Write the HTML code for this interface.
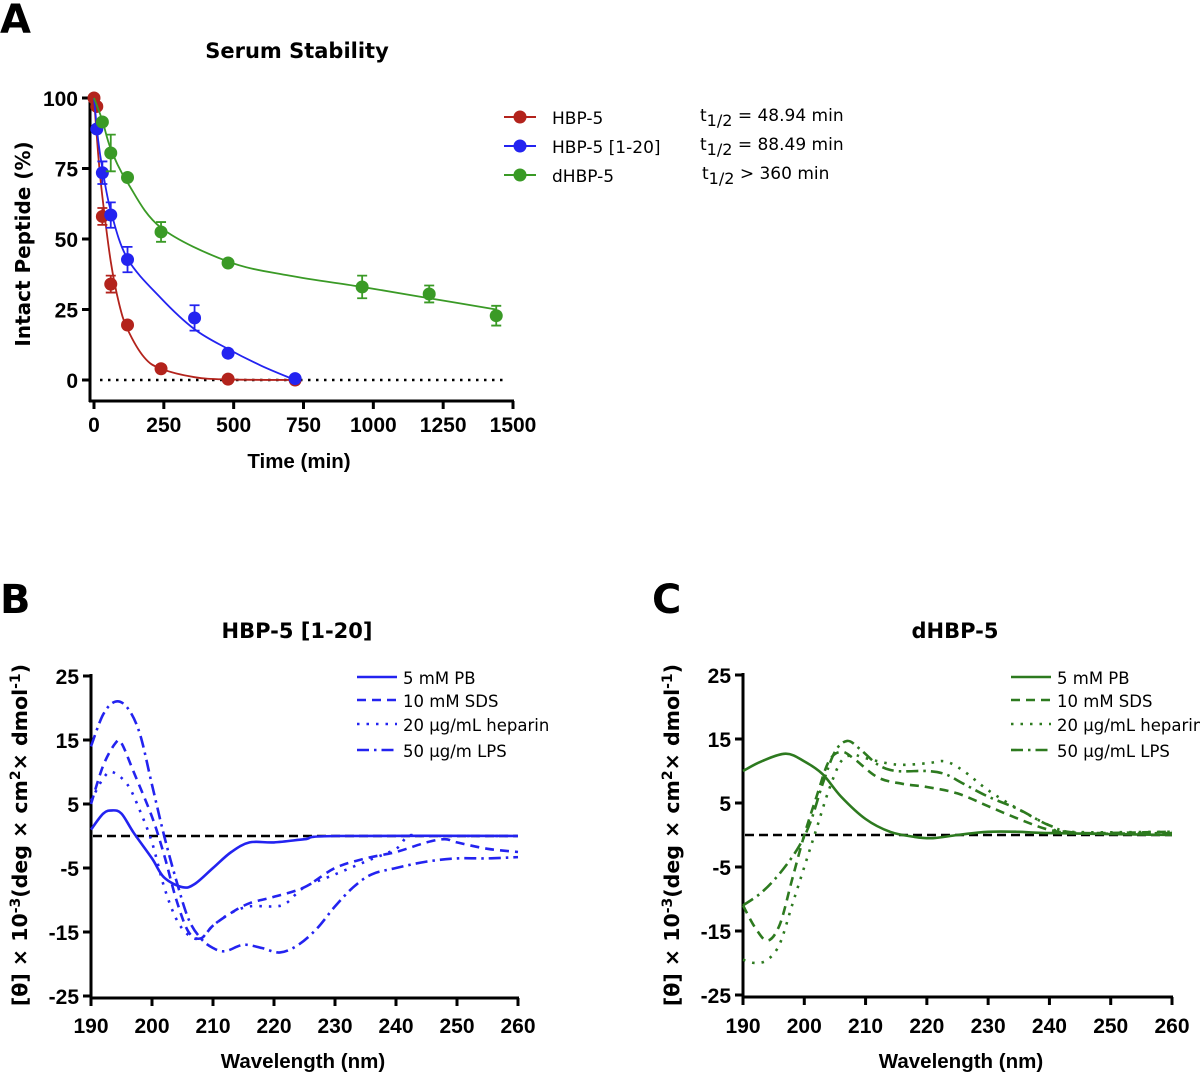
<!DOCTYPE html>
<html><head><meta charset="utf-8"><style>
body{margin:0;background:#fff;}
svg text{font-family:"Liberation Sans","DejaVu Sans",sans-serif;}
svg text.dv{font-family:"DejaVu Sans","Liberation Sans",sans-serif;}
.b{font-weight:bold;}
</style></head><body>
<svg id="fig" width="1200" height="1076" xmlns="http://www.w3.org/2000/svg"></svg>
<script>
// ---------- Panel A data ----------
const redT=[0,10,30,60,120,240,480,720];
const redV=[100,97,58,34,19.5,4,0.3,0];
const redE=[0,0,3,3,0,0,0,0];
const blueT=[10,30,60,120,360,480,720];
const blueV=[89,73.5,58.5,42.7,22,9.5,0.5];
const blueE=[0,4,4.5,4.5,4.5,0,0];
const greenT=[30,60,120,240,480,960,1200,1440];
const greenV=[91.5,80.5,71.8,52.5,41.5,33,30.5,22.8];
const greenE=[0,6.5,0,3.5,0,4,3,3.5];
const redFitT=[0,15,30,60,90,120,180,240,360,480,720];
const redFitV=[100,80,65,42,27,18,8,4,1,0.2,0];
const blueFitT=[0,15,30,60,120,240,360,480,600,720];
const blueFitV=[100,85,75,60,43,29,18,11,5,0];
const greenFitT=[0,30,60,120,240,480,700,960,1200,1440];
const greenFitV=[100,92,82,70,54,42,37,33,29,25];
const aXTicks=[0,250,500,750,1000,1250,1500];
const aYTicks=[0,25,50,75,100];
// ---------- Panel B data ----------
const cdXTicks=[190,200,210,220,230,240,250,260];
const cdYTicks=[25,15,5,-5,-15,-25];
const bPBw=[190,192,193.5,195,197,200,202,205,207,210,213,216,220,225,230,260];
const bPBv=[1,3.5,4,3.5,0.5,-3.5,-6.5,-8,-7.5,-5,-2.5,-1,-1,-0.5,0,0];
const bSDSw=[190,192,194,195,197,200,202,204,206,208,210,213,216,220,225,230,235,240,245,248,250,255,260];
const bSDSv=[5,11,14.5,14.5,10,3,-3,-10,-15,-16,-14,-12,-10.5,-9.5,-8,-5,-3.5,-2.5,-1,-0.5,-1,-2,-2.5];
const bHEPw=[190,192,193.5,196,198,200,202,204,206,208,210,213,216,220,222,225,230,235,240,242,245,260];
const bHEPv=[5.5,9,10,8,4,-1,-8,-13,-15.5,-16,-14,-12,-11,-11,-10.5,-8,-6,-4,-2,0,0,0];
const bLPSw=[190,192,194,196,198,200,202,204,206,208,210,212,215,218,221,224,227,230,233,236,240,245,250,255,260];
const bLPSv=[14,19,21,20,16,8,0,-7,-13,-16,-17.5,-18,-17,-17.5,-18.2,-17,-14.5,-11,-8,-6,-5,-4,-3.5,-3.5,-3.3];
// ---------- Panel C data ----------
const cPBw=[190,193,197,200,203,206,210,214,218,221,225,230,235,240,260];
const cPBv=[10,11.5,12.7,11.5,9.5,6,2.5,0.5,-0.3,-0.5,0,0.5,0.5,0.3,0];
const cSDSw=[190,192,194,196,198,200,202,204,206,208,212,216,220,225,230,235,240,245,260];
const cSDSv=[-11,-14.5,-16.5,-14,-7,0,6,11.5,13,12,9,8,7.5,6.5,4.5,2.5,0.8,0.3,0.5];
const cHEPw=[190,192,194,196,198,200,202,204,206,208,210,215,220,223,226,230,235,240,243,260];
const cHEPv=[-19.5,-20,-19.5,-17,-11,-5,1,7,11.5,12.5,12,11,11.2,11.5,10,7,4,1.5,0.5,0.5];
const cLPSw=[190,193,196,199,201,203,205,207,209,212,215,220,223,226,230,235,240,245,260];
const cLPSv=[-11,-9,-6,-2,2,8,13,14.7,13.5,11,10,10,9.5,8,6,4,1.5,0.3,0.3];

const NS="http://www.w3.org/2000/svg";
const svg=document.getElementById('fig');
function el(tag,attrs,parent){const e=document.createElementNS(NS,tag);for(const k in attrs)e.setAttribute(k,attrs[k]);(parent||svg).appendChild(e);return e;}
function txt(s,attrs,parent){const e=el('text',attrs,parent);e.textContent=s;return e;}
function linScale(d0,d1,r0,r1){return v=>r0+(v-d0)*(r1-r0)/(d1-d0);}
function smoothPath(pts){
  let d=`M${pts[0][0]},${pts[0][1]}`;
  for(let i=0;i<pts.length-1;i++){
    const p0=pts[Math.max(0,i-1)],p1=pts[i],p2=pts[i+1],p3=pts[Math.min(pts.length-1,i+2)];
    const c1=[p1[0]+(p2[0]-p0[0])/6,p1[1]+(p2[1]-p0[1])/6];
    const c2=[p2[0]-(p3[0]-p1[0])/6,p2[1]-(p3[1]-p1[1])/6];
    d+=` C${c1[0]},${c1[1]} ${c2[0]},${c2[1]} ${p2[0]},${p2[1]}`;
  }
  return d;
}
const la=txt('A',{x:0,y:33,'font-size':40,class:'b dv'});

const lb=txt('B',{x:0,y:613,'font-size':40,class:'b dv'});

const lc=txt('C',{x:652,y:613,'font-size':40,class:'b dv'});


// ---------- Panel A ----------
(function(){
  const g=el('g',{});
  
  const X=linScale(0,1500,94,513), Y=linScale(0,100,380,98);
  const t=txt('Serum Stability',{x:297,y:58,'font-size':21,class:'b dv','text-anchor':'middle'},g);
  
  const ya=el('line',{x1:90,y1:96,x2:90,y2:402,stroke:'#000','stroke-width':3},g);
  
  const xa=el('line',{x1:89,y1:401,x2:X(1500)+1,y2:401,stroke:'#000','stroke-width':3},g);
  
  aYTicks.forEach(v=>{
    el('line',{x1:82,x2:90,y1:Y(v),y2:Y(v),stroke:'#000','stroke-width':3},g);
    const l=txt(String(v),{x:78,y:Y(v)+8,'font-size':21,class:'b','text-anchor':'end'},g);
    
  });
  aXTicks.forEach(v=>{
    el('line',{x1:X(v),x2:X(v),y1:401,y2:409,stroke:'#000','stroke-width':3},g);
    const l=txt(String(v),{x:X(v),y:432,'font-size':21,class:'b','text-anchor':'middle'},g);
    
  });
  const xt=txt('Time (min)',{x:299,y:468,'font-size':20.5,class:'b','text-anchor':'middle'},g);
  
  const yt=txt('Intact Peptide (%)',{x:0,y:0,'font-size':20,class:'b dv','text-anchor':'middle',transform:'translate(30,244) rotate(-90)'},g);
  
  const zl=el('line',{x1:X(0)+6,x2:X(1500)-5,y1:Y(0),y2:Y(0),stroke:'#000','stroke-width':2.5,'stroke-dasharray':'2.5,5.5'},g);
  
  const series=[
    ['hbp5','#b3231c',redT,redV,redE,redFitT,redFitV],
    ['hbp5-1-20','#2323f0',blueT,blueV,blueE,blueFitT,blueFitV],
    ['dhbp5','#3a9a26',greenT,greenV,greenE,greenFitT,greenFitV]];
  series.forEach(s=>{
    const [nm,c,T,V,E,FT,FV]=s;
    const p=el('path',{d:smoothPath(FT.map((t,i)=>[X(t),Y(FV[i])])),fill:'none',stroke:c,'stroke-width':1.8},g);
    
    T.forEach((t,i)=>{
      if(E[i]>0){
        const eb=el('path',{d:`M${X(t)},${Y(V[i]-E[i])}V${Y(V[i]+E[i])}M${X(t)-5},${Y(V[i]-E[i])}h10M${X(t)-5},${Y(V[i]+E[i])}h10`,stroke:c,'stroke-width':1.8,fill:'none'},g);
        
      }
      const ci=el('circle',{cx:X(t),cy:Y(V[i]),r:6.5,fill:c},g);
      
    });
  });
  const leg=[['HBP-5','#b3231c','48.94 min','='],['HBP-5 [1-20]','#2323f0','88.49 min','='],['dHBP-5','#3a9a26','360 min','>']];
  leg.forEach((L,i)=>{
    const y=117+i*29;
    const lg=el('g',{},g);
    
    el('line',{x1:504,x2:536,y1:y,y2:y,stroke:L[1],'stroke-width':2},lg);
    el('circle',{cx:520,cy:y,r:6.5,fill:L[1]},lg);
    txt(L[0],{x:552,y:y+7,'font-size':17,class:'dv'},lg);
    const h=txt('',{x:700+(i==2?2:0),y:y+4,'font-size':17,class:'dv'},lg);
    
    const a=el('tspan',{},h);a.textContent='t';
    const b=el('tspan',{dy:5,'font-size':16},h);b.textContent='1/2';
    const c=el('tspan',{dy:-5},h);c.textContent=(L[3]=='='?' =  ':' > ')+L[2];
  });
})();

// ---------- CD panels ----------
function cdPanel(name,title,x0,x1,y25,yn25,color,series,labels,tx){
  const g=el('g',{});
  
  const X=linScale(190,260,x0,x1),Y=linScale(25,-25,y25,yn25);
  const t=txt(title,{x:tx,y:638,'font-size':21,class:'b dv','text-anchor':'middle'},g);
  
  const ya=el('line',{x1:x0,y1:y25-2,x2:x0,y2:yn25+2,stroke:'#000','stroke-width':3},g);
  
  const xa=el('line',{x1:x0-1,y1:yn25+2,x2:x1+1,y2:yn25+2,stroke:'#000','stroke-width':3},g);
  
  cdYTicks.forEach(v=>{
    el('line',{x1:x0-8,x2:x0,y1:Y(v),y2:Y(v),stroke:'#000','stroke-width':3},g);
    const l=txt(String(v),{x:x0-12,y:Y(v)+8,'font-size':21,class:'b','text-anchor':'end'},g);
    
  });
  cdXTicks.forEach(v=>{
    el('line',{x1:X(v),x2:X(v),y1:yn25+2,y2:yn25+10,stroke:'#000','stroke-width':3},g);
    const l=txt(String(v),{x:X(v),y:1033,'font-size':21,class:'b','text-anchor':'middle'},g);
    
  });
  const xt=txt('Wavelength (nm)',{x:tx+6,y:1068,'font-size':20.5,class:'b','text-anchor':'middle'},g);
  
  const yt=el('text',{'font-size':20.5,class:'b dv','text-anchor':'middle',transform:`translate(${x0-64},835) rotate(-90)`},g);
  
  [['[θ] × 10',0],['-3',-7],['(deg × cm',7],['2',-7],['× dmol',7],['-1',-7],[')',7]].forEach(p=>{
    const s=el('tspan',{dy:p[1]},yt);if(p[1]==-7)s.setAttribute('font-size',14);s.textContent=p[0];
  });
  const zl=el('line',{x1:x0+2,x2:x1,y1:Y(0),y2:Y(0),stroke:'#000','stroke-width':2.5,'stroke-dasharray':'9,5'},g);
  
  const dashes=['none','9,6','2.5,7','12,5,2.5,5'];
  series.forEach((s,i)=>{
    const p=el('path',{d:smoothPath(s[0].map((w,j)=>[X(w),Y(s[1][j])])),fill:'none',stroke:color,'stroke-width':2.6,'stroke-dasharray':dashes[i]},g);
    
  });
  labels.forEach((L,i)=>{
    const y=[677,700,724,750][i];
    const lg=el('g',{},g);
    
    el('line',{x1:x1-161,x2:x1-121,y1:y,y2:y,stroke:color,'stroke-width':2.6,'stroke-dasharray':dashes[i]},lg);
    txt(L,{x:x1-115,y:y+7,'font-size':16.5,class:'dv'},lg);
  });
}
cdPanel('cd-chart-hbp5-1-20','HBP-5 [1-20]',91,518,676,996,'#2323f0',
  [[bPBw,bPBv],[bSDSw,bSDSv],[bHEPw,bHEPv],[bLPSw,bLPSv]],
  ['5 mM PB','10 mM SDS','20 µg/mL heparin','50 µg/m LPS'],297);
cdPanel('cd-chart-dhbp5','dHBP-5',743,1172,675,995,'#2d7a1f',
  [[cPBw,cPBv],[cSDSw,cSDSv],[cHEPw,cHEPv],[cLPSw,cLPSv]],
  ['5 mM PB','10 mM SDS','20 µg/mL heparin','50 µg/mL LPS'],955);
</script>
</body></html>
